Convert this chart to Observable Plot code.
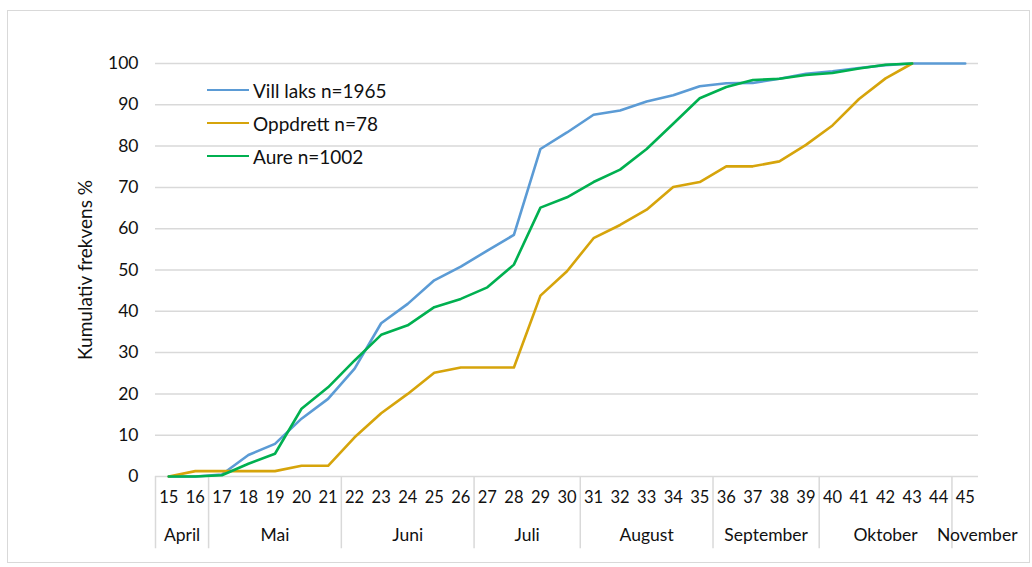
<!DOCTYPE html>
<html><head><meta charset="utf-8">
<script src="https://cdn.jsdelivr.net/npm/d3@7"></script>
<script src="https://cdn.jsdelivr.net/npm/@observablehq/plot@0.6"></script>
<style>
body{margin:0;background:#fff;font-family:Lato,sans-serif;}
#wrap{position:relative;width:1032px;height:567px;overflow:hidden;}
#frame{position:absolute;left:7px;top:10px;width:1021px;height:551px;border:1.5px solid #d9d9d9;pointer-events:none;}
#legend{position:absolute;left:207px;top:73.5px;}
.item{display:flex;align-items:center;height:33px;font-size:19px;color:#111;white-space:nowrap;}
.sw{width:42px;height:2.6px;margin-right:4px;}
svg{position:absolute;left:0;top:0;}
</style></head>
<body><div id="wrap"><div id="chart"></div><div id="frame"></div><div id="legend"></div></div>
<script>
const weeks = [15,16,17,18,19,20,21,22,23,24,25,26,27,28,29,30,31,32,33,34,35,36,37,38,39,40,41,42,43,44,45];
const villLaks = [0,0,0.5,5.2,7.9,14.0,18.8,26.1,37.1,41.8,47.5,50.8,54.7,58.5,79.3,83.3,87.6,88.6,90.8,92.3,94.5,95.2,95.3,96.3,97.5,98.1,98.9,99.6,100,100,100];
const oppdrett = [0,1.3,1.3,1.3,1.3,2.6,2.6,9.5,15.3,20.0,25.1,26.4,26.4,26.4,43.8,49.7,57.7,60.9,64.6,70.1,71.3,75.1,75.1,76.3,80.3,85.0,91.4,96.4,100];
const aure = [0,0,0.3,3.1,5.5,16.4,21.6,28.1,34.3,36.6,41.0,43.0,45.8,51.3,65.1,67.6,71.3,74.3,79.3,85.4,91.6,94.3,96.0,96.3,97.2,97.7,98.8,99.7,100];
const seriesNames = ["Vill laks n=1965","Oppdrett n=78","Aure n=1002"];
const seriesColors = ["#5b9bd5","#d6a40b","#00b050"];
const months = ["April","Mai","Juni","Juli","August","September","Oktober","November"];
const monthFirstWeek = [15,17,22,27,31,36,40,45];
const monthLastWeek = [16,21,26,30,35,39,44,45];
const yTicks = [0,10,20,30,40,50,60,70,80,90,100];
const yLabel = "Kumulativ frekvens %";

const seriesValues = [villLaks, oppdrett, aure];
const table = [];
seriesValues.forEach((vals, s) => vals.forEach((v, i) => table.push({series: seriesNames[s], week: weeks[i], value: v})));
const monthTable = months.map((m, i) => ({month: m, mid: (monthFirstWeek[i] + monthLastWeek[i]) / 2}));

const chart = Plot.plot({
  width: 1032, height: 567,
  marginLeft: 155, marginRight: 54, marginTop: 63, marginBottom: 91,
  x: {domain: [14.5, 45.5], axis: null},
  y: {domain: [0, 100], axis: null},
  color: {domain: seriesNames, range: seriesColors},
  style: {fontFamily: "Lato, sans-serif", fontSize: "16px", color: "#111", background: "transparent"},
  marks: [
    Plot.gridY(yTicks, {stroke: "#d9d9d9", strokeOpacity: 1, strokeWidth: 1.5}),
    Plot.axisY(yTicks, {tickSize: 0, tickPadding: 17, fontSize: 17.5, label: null}),
    Plot.text([yLabel], {frameAnchor: "left", textAnchor: "middle", lineAnchor: "middle", rotate: -90, dx: -70, fontSize: 19}),
    Plot.ruleX(monthFirstWeek.map(w => w - 0.5), {y1: 0, y2: -17.5, stroke: "#d9d9d9", strokeWidth: 1.5}),
    Plot.text(weeks, {x: d => d, y: 0, dy: 21, fontSize: 16.5}),
    Plot.text(monthTable.slice(0, -1), {x: "mid", y: 0, dy: 59, text: "month", fontSize: 17.5}),
    Plot.text(monthTable.slice(-1), {x: "mid", y: 0, dy: 59, dx: 12, text: "month", fontSize: 17.5}),
    Plot.line(table, {x: "week", y: "value", z: "series", stroke: "series", strokeWidth: 2.6})
  ]
});
document.getElementById("chart").appendChild(chart);

const legend = document.getElementById("legend");
seriesNames.forEach((n, i) => {
  const it = document.createElement("div");
  it.className = "item";
  const sw = document.createElement("div");
  sw.className = "sw";
  sw.style.background = seriesColors[i];
  it.appendChild(sw);
  it.appendChild(document.createTextNode(n));
  legend.appendChild(it);
});
</script>
</body></html>
